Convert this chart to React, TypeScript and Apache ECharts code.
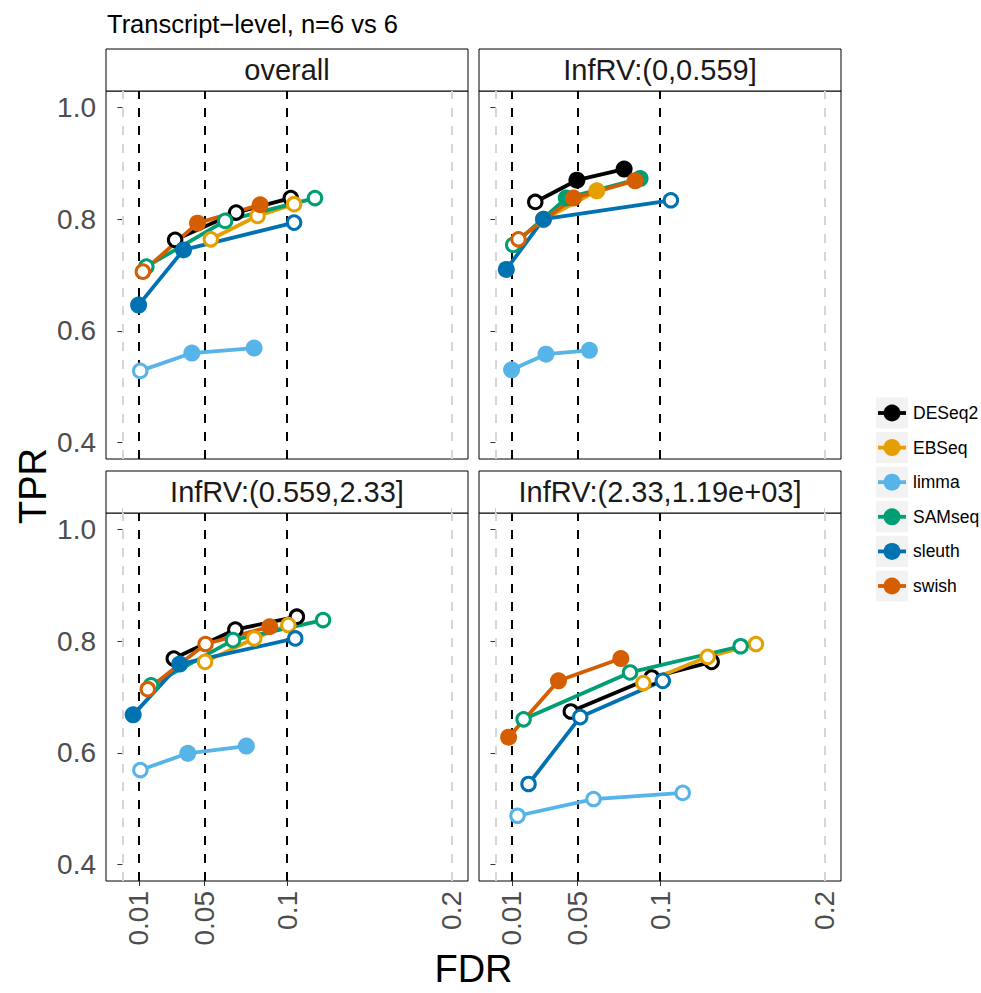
import React, { useEffect, useRef } from 'react';
import * as echarts from 'echarts';

const methods = ['DESeq2', 'EBSeq', 'limma', 'SAMseq', 'sleuth', 'swish'];
const methodColors = ['#000000', '#E69F00', '#56B4E9', '#009E73', '#0072B2', '#D55E00'];
const thresholds = [0.01, 0.05, 0.1];
const panelTitles = ['overall', 'InfRV:(0,0.559]', 'InfRV:(0.559,2.33]', 'InfRV:(2.33,1.19e+03]'];

const fdrTickLabels = [0.01, 0.05, 0.1, 0.2];
const fdrGrayLines = [0, 0.2];
const tprTickLabels = [0.4, 0.6, 0.8, 1.0];

// rows follow methods order: DESeq2, EBSeq, limma, SAMseq, sleuth, swish
const fdrOverall = [
  [0.0320, 0.0691, 0.1023],
  [0.0537, 0.0821, 0.1043],
  [0.0108, 0.0422, 0.0800],
  [0.0145, 0.0624, 0.1170],
  [0.0098, 0.0371, 0.1043],
  [0.0124, 0.0456, 0.0837],
];
const tprOverall = [
  [0.763, 0.812, 0.838],
  [0.764, 0.806, 0.827],
  [0.528, 0.560, 0.569],
  [0.715, 0.797, 0.838],
  [0.646, 0.745, 0.794],
  [0.706, 0.793, 0.826],
];

const fdrLow = [
  [0.0242, 0.0495, 0.0782],
  [0.0290, 0.0292, 0.0616],
  [0.0098, 0.0307, 0.0571],
  [0.0108, 0.0430, 0.0879],
  [0.0066, 0.0292, 0.1066],
  [0.0140, 0.0474, 0.0849],
];
const tprLow = [
  [0.831, 0.870, 0.890],
  [0.799, 0.800, 0.851],
  [0.530, 0.558, 0.565],
  [0.754, 0.838, 0.873],
  [0.710, 0.800, 0.834],
  [0.764, 0.838, 0.869],
];

const fdrMid = [
  [0.0312, 0.0686, 0.1060],
  [0.0502, 0.0801, 0.1008],
  [0.0109, 0.0397, 0.0753],
  [0.0174, 0.0672, 0.1219],
  [0.0065, 0.0348, 0.1050],
  [0.0154, 0.0505, 0.0895],
];
const tprMid = [
  [0.769, 0.821, 0.844],
  [0.763, 0.805, 0.829],
  [0.569, 0.599, 0.612],
  [0.721, 0.802, 0.838],
  [0.668, 0.759, 0.805],
  [0.714, 0.795, 0.826],
];

const fdrHigh = [
  [0.0458, 0.0950, 0.1314],
  [0.0899, 0.1290, 0.1583],
  [0.0134, 0.0596, 0.1138],
  [0.0171, 0.0818, 0.1490],
  [0.0201, 0.0515, 0.1017],
  [0.0080, 0.0383, 0.0762],
];
const tprHigh = [
  [0.674, 0.735, 0.763],
  [0.725, 0.772, 0.795],
  [0.487, 0.517, 0.528],
  [0.660, 0.744, 0.791],
  [0.544, 0.664, 0.729],
  [0.628, 0.729, 0.769],
];

const panelFdr = [fdrOverall, fdrLow, fdrMid, fdrHigh];
const panelTpr = [tprOverall, tprLow, tprMid, tprHigh];

const FONT = "'Liberation Sans', Arial, Helvetica, sans-serif";
const GRID_POS = [
  [106, 91],
  [479, 91],
  [106, 513],
  [479, 513],
];
const PW = 362;
const PH = 368;
const STRIP_H = 42;
const X_MIN = -0.01;
const X_MAX = 0.21;
const Y_MIN = 0.37;
const Y_MAX = 1.03;
const DASH = [9, 9];
const LINE_W = 3.8;

function buildOption() {
  const grid = GRID_POS.map(([l, t]) => ({
    left: l,
    top: t,
    width: PW,
    height: PH,
    show: true,
    borderColor: '#000',
    borderWidth: 1,
    backgroundColor: 'transparent',
    containLabel: false,
  }));

  const xAxis: any[] = GRID_POS.map((_, i) => ({
    type: 'value',
    gridIndex: i,
    min: X_MIN,
    max: X_MAX,
    splitLine: { show: false },
    axisLine: { show: false },
    axisTick: {
      show: i >= 2,
      customValues: thresholds,
      length: 5,
      lineStyle: { color: '#333333', width: 1 },
    },
    axisLabel: {
      show: i >= 2,
      customValues: fdrTickLabels,
      rotate: 90,
      fontSize: 28,
      color: '#4D4D4D',
      fontFamily: FONT,
      margin: 10,
      formatter: (v: number) => String(v),
    },
  }));
  // gray ticks at 0 and 0.2 for bottom panels
  [2, 3].forEach((i) => {
    xAxis.push({
      type: 'value',
      gridIndex: i,
      min: X_MIN,
      max: X_MAX,
      splitLine: { show: false },
      axisLine: { show: false },
      axisLabel: { show: false },
      axisTick: {
        show: true,
        customValues: fdrGrayLines,
        length: 5,
        lineStyle: { color: '#CCCCCC', width: 1 },
      },
    });
  });

  const yAxis = GRID_POS.map((_, i) => ({
    type: 'value',
    gridIndex: i,
    min: Y_MIN,
    max: Y_MAX,
    splitLine: { show: false },
    axisLine: { show: false },
    axisTick: {
      show: true,
      customValues: tprTickLabels,
      length: 5,
      lineStyle: { color: '#333333', width: 1 },
    },
    axisLabel: {
      show: i % 2 === 0,
      customValues: tprTickLabels,
      fontSize: 28,
      color: '#4D4D4D',
      fontFamily: FONT,
      margin: 10,
      formatter: (v: number) => v.toFixed(1),
    },
  }));

  const series: any[] = [];
  for (let p = 0; p < 4; p++) {
    for (let m = 0; m < methods.length; m++) {
      const col = methodColors[m];
      const pts = panelFdr[p][m].map((f, k) => [f, panelTpr[p][m][k]]);
      const lineSeries: any = {
        type: 'line',
        name: methods[m],
        xAxisIndex: p,
        yAxisIndex: p,
        data: pts,
        symbol: 'none',
        showSymbol: false,
        silent: true,
        lineStyle: { color: col, width: LINE_W, opacity: 1 },
        itemStyle: { color: col },
        z: 3,
      };
      if (m === 0) {
        lineSeries.markLine = {
          silent: true,
          z: 1,
          symbol: ['none', 'none'],
          label: { show: false },
          lineStyle: { type: DASH, width: 2, color: '#000000' },
          emphasis: { disabled: true },
          data: [
            ...fdrGrayLines.map((v) => ({ xAxis: v, lineStyle: { type: DASH, width: 2, color: '#D6D6D6' } })),
            ...thresholds.map((v) => ({ xAxis: v })),
          ],
        };
      }
      series.push(lineSeries);
      series.push({
        type: 'scatter',
        name: methods[m],
        xAxisIndex: p,
        yAxisIndex: p,
        silent: true,
        z: 4,
        itemStyle: { opacity: 1 },
        data: pts.map((pt, k) => {
          const sat = pt[0] <= thresholds[k];
          return sat
            ? { value: pt, symbolSize: 17, itemStyle: { color: col, borderWidth: 0, opacity: 1 } }
            : {
                value: pt,
                symbolSize: 13.5,
                itemStyle: { color: '#FFFFFF', borderColor: col, borderWidth: 3, opacity: 1 },
              };
        }),
      });
    }
  }

  const graphic: any[] = [];
  graphic.push({
    type: 'text',
    x: 107,
    y: 24,
    style: {
      text: 'Transcript\u2212level, n=6 vs 6',
      fontSize: 25.5,
      fontFamily: FONT,
      fill: '#000',
      verticalAlign: 'middle',
      textVerticalAlign: 'middle',
    },
  });
  GRID_POS.forEach(([l, t], i) => {
    graphic.push({
      type: 'rect',
      shape: { x: l, y: t - STRIP_H, width: PW, height: STRIP_H },
      style: { fill: '#FFFFFF', stroke: '#000000', lineWidth: 1 },
    });
    graphic.push({
      type: 'text',
      x: l + PW / 2,
      y: t - STRIP_H / 2,
      style: {
        text: panelTitles[i],
        fontSize: 29,
        fontFamily: FONT,
        fill: '#1A1A1A',
        align: 'center',
        verticalAlign: 'middle',
        textAlign: 'center',
        textVerticalAlign: 'middle',
      },
    });
  });
  graphic.push({
    type: 'text',
    x: 33,
    y: 486,
    rotation: Math.PI / 2,
    style: {
      text: 'TPR',
      fontSize: 38,
      fontFamily: FONT,
      fill: '#000',
      align: 'center',
      verticalAlign: 'middle',
      textAlign: 'center',
      textVerticalAlign: 'middle',
    },
  });
  graphic.push({
    type: 'text',
    x: 473.5,
    y: 969,
    style: {
      text: 'FDR',
      fontSize: 38,
      fontFamily: FONT,
      fill: '#000',
      align: 'center',
      verticalAlign: 'middle',
      textAlign: 'center',
      textVerticalAlign: 'middle',
    },
  });
  methods.forEach((m, i) => {
    const cy = 413 + i * 34.6;
    graphic.push({
      type: 'rect',
      shape: { x: 876, y: cy - 15.5, width: 32, height: 31 },
      style: { fill: '#F2F2F2' },
    });
    graphic.push({
      type: 'line',
      shape: { x1: 878, y1: cy, x2: 906, y2: cy },
      style: { stroke: methodColors[i], lineWidth: LINE_W },
    });
    graphic.push({
      type: 'circle',
      shape: { cx: 892, cy, r: 8.5 },
      style: { fill: methodColors[i] },
    });
    graphic.push({
      type: 'text',
      x: 913,
      y: cy,
      style: {
        text: m,
        fontSize: 17.5,
        fontFamily: FONT,
        fill: '#000',
        verticalAlign: 'middle',
        textVerticalAlign: 'middle',
      },
    });
  });

  return {
    animation: false,
    backgroundColor: '#FFFFFF',
    textStyle: { fontFamily: FONT },
    grid,
    xAxis,
    yAxis,
    series,
    graphic,
  };
}

export default function App() {
  const ref = useRef<HTMLDivElement>(null);
  useEffect(() => {
    if (!ref.current) return;
    const chart = echarts.init(ref.current, null, { renderer: 'svg' });
    chart.setOption(buildOption() as any);
    return () => chart.dispose();
  }, []);
  return (
    <div
      ref={ref}
      style={{ position: 'absolute', left: 0, top: 0, width: 981, height: 993, background: '#fff' }}
    />
  );
}
